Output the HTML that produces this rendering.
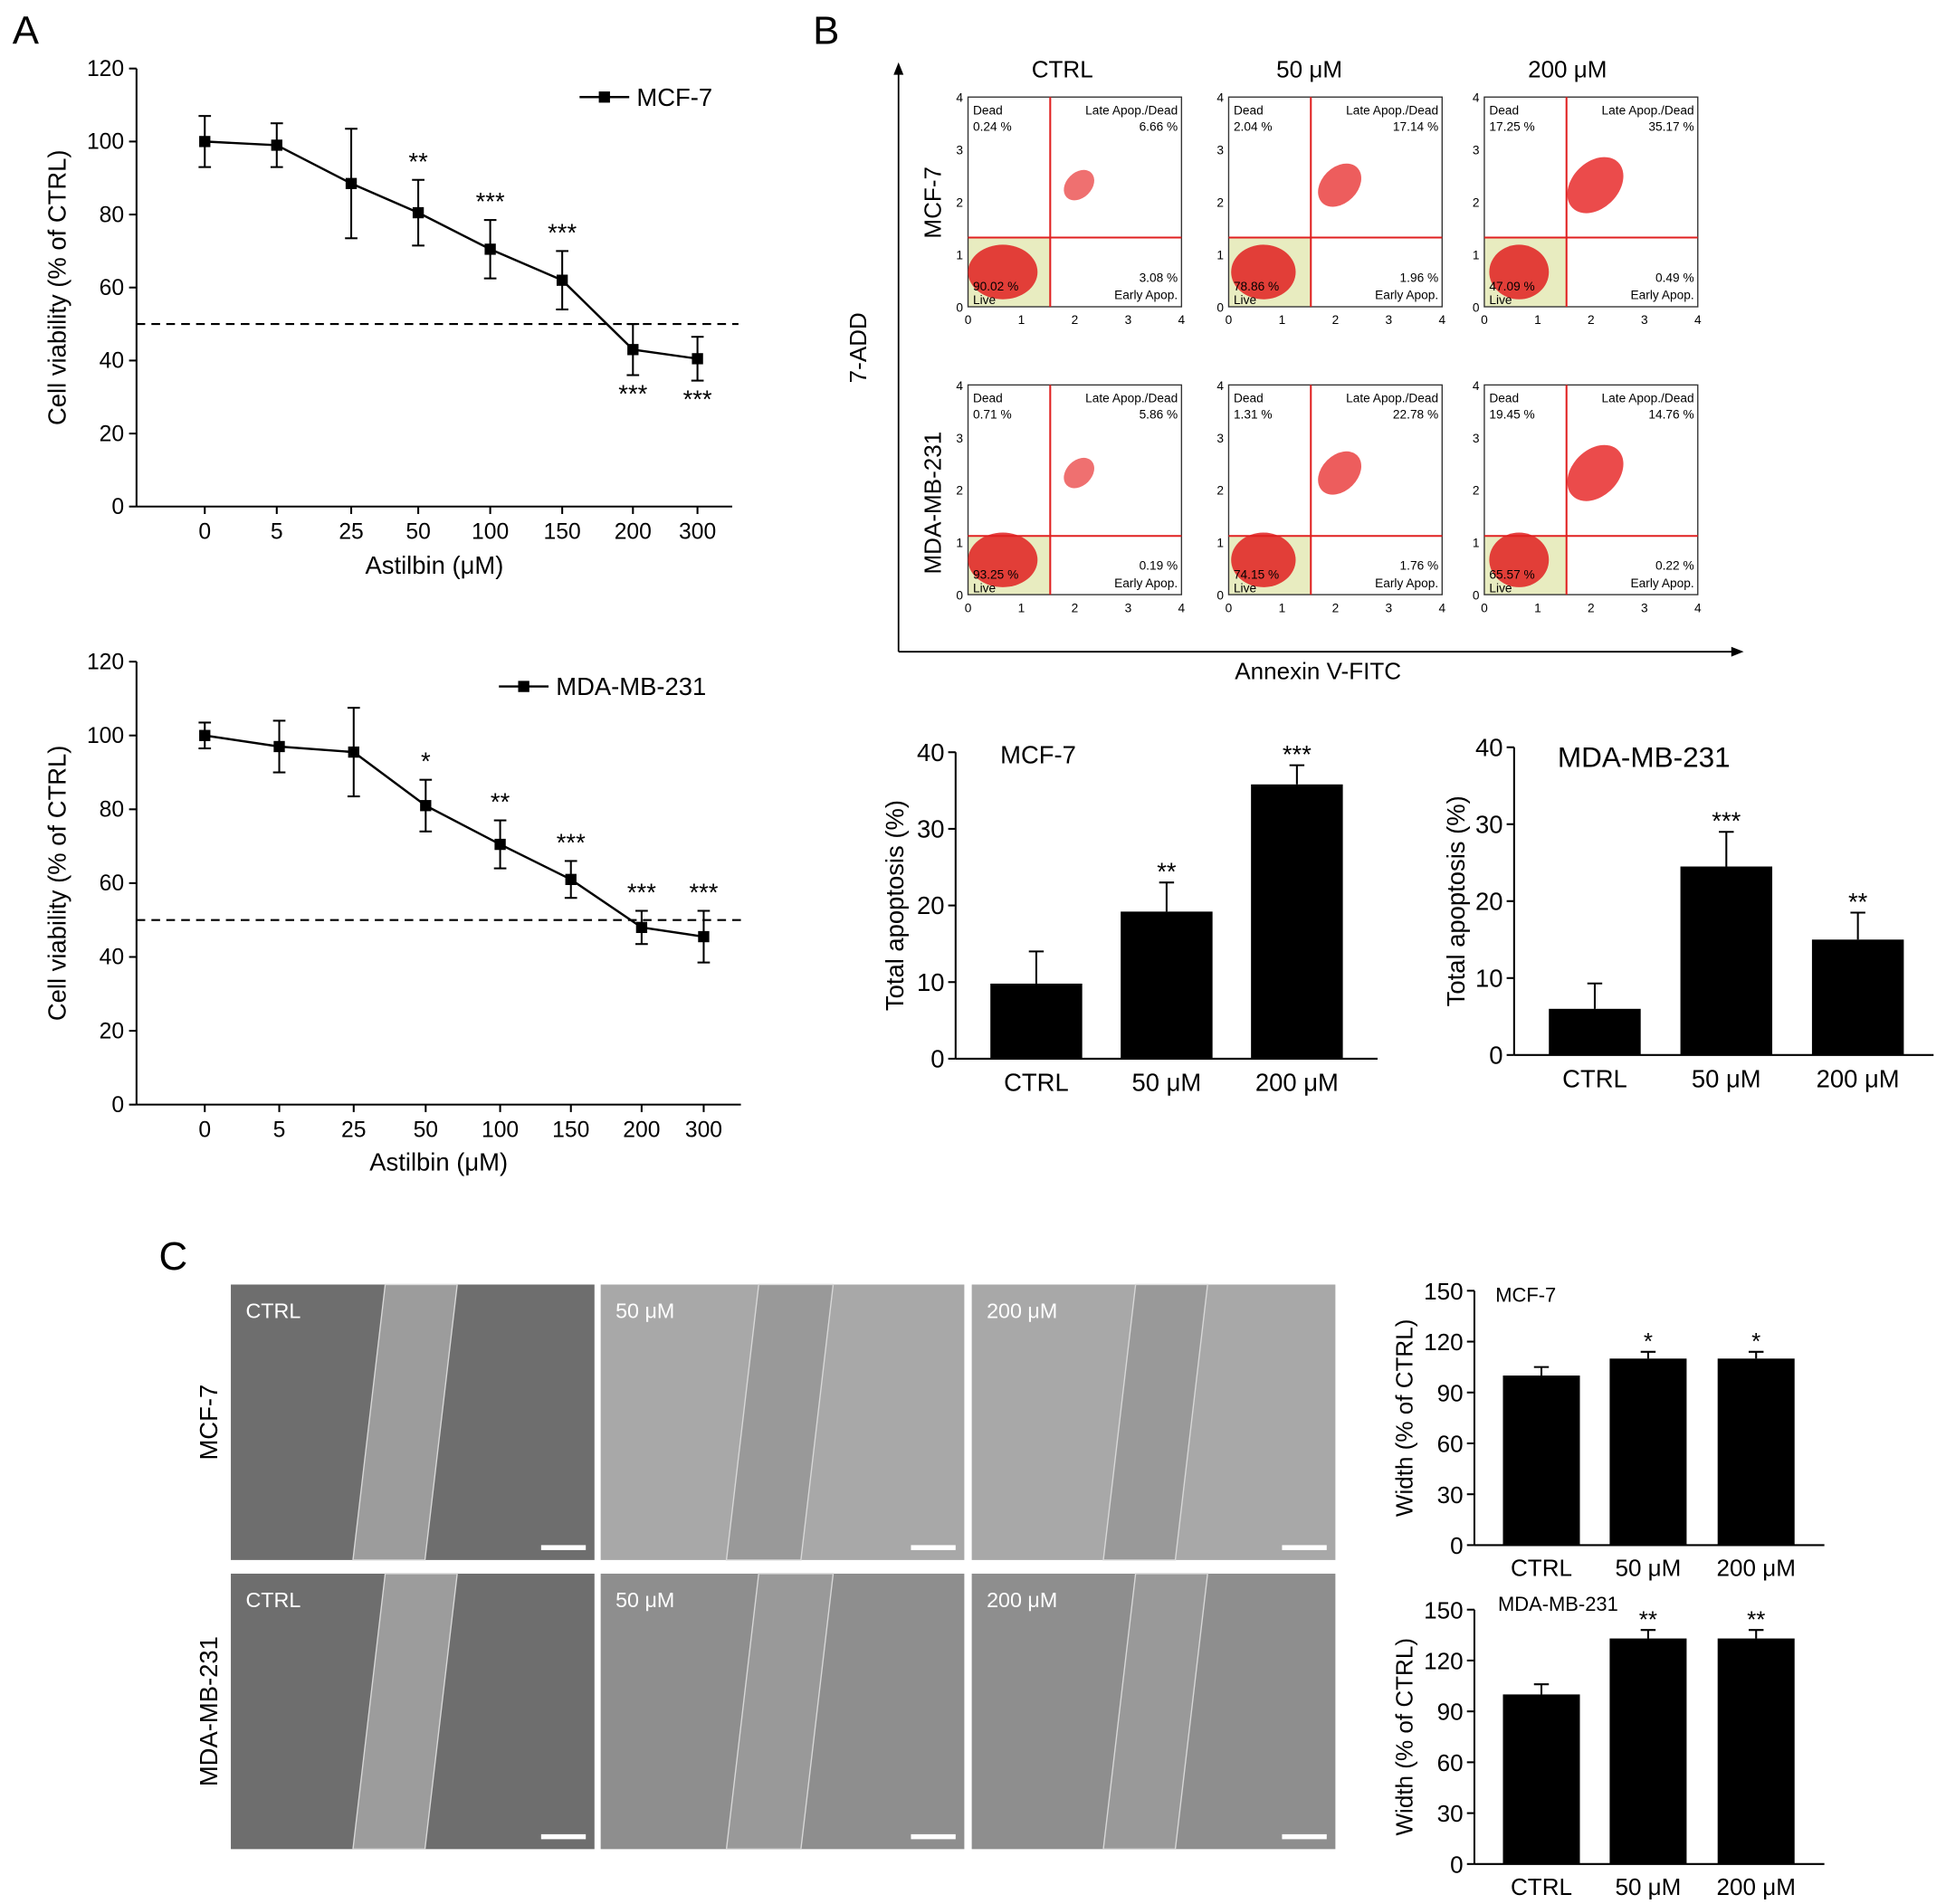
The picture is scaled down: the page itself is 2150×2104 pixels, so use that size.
<!DOCTYPE html>
<html><head><meta charset="utf-8"><style>
html,body{margin:0;padding:0;background:#fff;}
svg{display:block;font-family:"Liberation Sans",Arial,sans-serif;}
</style></head><body>
<svg id="fig" width="2150" height="2104" viewBox="0 0 1568 1534" xmlns="http://www.w3.org/2000/svg">
<rect x="0" y="0" width="1568" height="1534" fill="#fff"/>
<g id="root"></g>
</svg>
<script>
// Panel A data
const doses = ["0","5","25","50","100","150","200","300"];
const mcfVals = [100,99,88.5,80.5,70.5,62,43,40.5];
const mcfErr = [7,6,15,9,8,8,7,6];
const mcfStars = ["","","","**","***","***","***","***"];
const mdaVals = [100,97,95.5,81,70.5,61,48,45.5];
const mdaErr = [3.5,7,12,7,6.5,5,4.5,7];
const mdaStars = ["","","","*","**","***","***","***"];
const vTicks = [0,20,40,60,80,100,120];
// Panel B bar data
const groups = ["CTRL","50 μM","200 μM"];
const apoMcf = [9.8,19.2,35.8];
const apoMcfErr = [4.2,3.8,2.5];
const apoMcfStars = ["","**","***"];
const apoMda = [6,24.5,15];
const apoMdaErr = [3.3,4.5,3.5];
const apoMdaStars = ["","***","**"];
const apoTicks = [0,10,20,30,40];
// Flow quadrant values
const flowMcf = [["0.24 %","6.66 %","90.02 %","3.08 %"],["2.04 %","17.14 %","78.86 %","1.96 %"],["17.25 %","35.17 %","47.09 %","0.49 %"]];
const flowMda = [["0.71 %","5.86 %","93.25 %","0.19 %"],["1.31 %","22.78 %","74.15 %","1.76 %"],["19.45 %","14.76 %","65.57 %","0.22 %"]];
// Panel C data
const widthMcf = [100,110,110];
const widthMcfErr = [5,4,4];
const widthMcfStars = ["","*","*"];
const widthMda = [100,133,133];
const widthMdaErr = [6,5,5];
const widthMdaStars = ["","**","**"];
const widthTicks = [0,30,60,90,120,150];

const NS="http://www.w3.org/2000/svg";
const root=document.getElementById('root');
function el(tag,attrs,parent,txt){const e=document.createElementNS(NS,tag);for(const k in attrs)e.setAttribute(k,attrs[k]);if(txt!==undefined)e.textContent=txt;(parent||root).appendChild(e);return e;}
function grp(name){const g=el('g',{});return g;}
function txt(g,x,y,s,size,anchor,extra){const t=el('text',Object.assign({x:x,y:y,'font-size':size,'text-anchor':anchor||'middle',fill:'#000'},extra||{}),g,s);return t;}

[["A",10,35],["B",655,35],["C",128,1023]].forEach(([l,x,y])=>{const g=grp('panel-label-'+l.toLowerCase());txt(g,x,y,l,32,'start');});

function lineChart(name,xs,y0,y120,vals,err,stars,legend,xlabelY,axisRight,legX,legY){
  const g=grp(name);
  const yS=v=>y0-(y0-y120)*v/120;
  el('line',{x1:110,y1:y120,x2:110,y2:y0,stroke:'#000','stroke-width':1.5},g);
  el('line',{x1:110,y1:y0,x2:axisRight,y2:y0,stroke:'#000','stroke-width':1.5},g);
  vTicks.forEach(t=>{el('line',{x1:104,y1:yS(t),x2:110,y2:yS(t),stroke:'#000','stroke-width':1.5},g);txt(g,100,yS(t)+6,String(t),18,'end');});
  xs.forEach((x,i)=>{el('line',{x1:x,y1:y0,x2:x,y2:y0+6,stroke:'#000','stroke-width':1.5},g);txt(g,x,y0+26,doses[i],18);});
  txt(g,(110+axisRight)/2,xlabelY,"Astilbin (μM)",20);
  txt(g,0,0,"Cell viability (% of CTRL)",20,'middle',{transform:`translate(53,${(y0+y120)/2}) rotate(-90)`});
  const dl=el('line',{x1:110,y1:yS(50),x2:axisRight+5,y2:yS(50),stroke:'#000','stroke-width':1.5,'stroke-dasharray':'7,5'},g);
  
  let d='';vals.forEach((v,i)=>{d+=(i?'L':'M')+xs[i]+','+yS(v);});
  el('path',{d:d,fill:'none',stroke:'#000','stroke-width':1.8},g);
  vals.forEach((v,i)=>{const x=xs[i];const a=yS(v+err[i]),b=yS(v-err[i]);
    el('line',{x1:x,y1:a,x2:x,y2:b,stroke:'#000','stroke-width':1.5},g);
    el('line',{x1:x-5,y1:a,x2:x+5,y2:a,stroke:'#000','stroke-width':1.5},g);
    el('line',{x1:x-5,y1:b,x2:x+5,y2:b,stroke:'#000','stroke-width':1.5},g);
    const p=el('rect',{x:x-4.5,y:yS(v)-4.5,width:9,height:9,fill:'#000'},g);
    
    if(stars[i]){const below=v<50&&name.indexOf('mcf')>=0;txt(g,x,below?b+22:a-8,stars[i],20);}
  });
  el('line',{x1:legX,y1:legY,x2:legX+40,y2:legY,stroke:'#000','stroke-width':1.8},g);
  el('rect',{x:legX+15.5,y:legY-4.5,width:9,height:9,fill:'#000'},g);
  txt(g,legX+46,legY+7,legend,20,'start');
}
lineChart('line-chart-mcf7',[165,223,283,337,395,453,510,562],408,55,mcfVals,mcfErr,mcfStars,"MCF-7",462,590,467,78);
lineChart('line-chart-mda',[165,225,285,343,403,460,517,567],890,533,mdaVals,mdaErr,mdaStars,"MDA-MB-231",943,597,402,553);

const fg=grp('flow-cytometry-panel');
el('line',{x1:724,y1:525,x2:724,y2:55,stroke:'#000','stroke-width':1.3},fg);
el('path',{d:'M720,60 L724,50 L728,60 Z',fill:'#000'},fg);
el('line',{x1:724,y1:525,x2:1400,y2:525,stroke:'#000','stroke-width':1.3},fg);
el('path',{d:'M1395,521 L1405,525 L1395,529 Z',fill:'#000'},fg);
txt(fg,1062,547,"Annexin V-FITC",19);
txt(fg,0,0,"7-ADD",19,'middle',{transform:'translate(698,280) rotate(-90)'});
["CTRL","50 μM","200 μM"].forEach((s,i)=>txt(fg,[856,1055,1263][i],62,s,19));
txt(fg,0,0,"MCF-7",19,'middle',{transform:'translate(758,163) rotate(-90)'});
txt(fg,0,0,"MDA-MB-231",19,'middle',{transform:'translate(758,405) rotate(-90)'});
const cols=[780,990,1196], rows=[78,310], W=172, H=169;
[flowMcf,flowMda].forEach((data,r)=>{cols.forEach((cx,c)=>{
  const g=grp(`flow-plot-r${r+1}-c${c+1}`);const y=rows[r];const qx=cx+W*0.385, qy=y+H*(r?0.72:0.67);
  el('rect',{x:cx,y:qy,width:qx-cx,height:y+H-qy,fill:'#e8ecc0'},g);
  el('rect',{x:cx,y:y,width:W,height:H,fill:'none',stroke:'#333','stroke-width':1},g);
  el('ellipse',{cx:cx+28,cy:y+H-28,rx:28-c*2,ry:22,fill:'#e02020',opacity:0.85},g);
  const diag=[0.3,0.6,0.9][c];
  el('ellipse',{cx:cx+W*0.52,cy:y+H*0.42,rx:8+20*diag,ry:6+14*diag,fill:'#e83030',opacity:0.6+0.3*diag,transform:`rotate(-45 ${cx+W*0.52} ${y+H*0.42})`},g);
  el('line',{x1:qx,y1:y,x2:qx,y2:y+H,stroke:'#e02020','stroke-width':1.5},g);
  el('line',{x1:cx,y1:qy,x2:cx+W,y2:qy,stroke:'#e02020','stroke-width':1.5},g);
  const q=data[c];
  txt(g,cx+4,y+14,"Dead",10,'start');txt(g,cx+4,y+27,q[0],10,'start');
  txt(g,cx+W-3,y+14,"Late Apop./Dead",10,'end');txt(g,cx+W-3,y+27,q[1],10,'end');
  txt(g,cx+4,y+H-13,q[2],10,'start');txt(g,cx+4,y+H-2,"Live",10,'start');
  txt(g,cx+W-3,y+H-20,q[3],10,'end');txt(g,cx+W-3,y+H-6,"Early Apop.",10,'end');
  for(let k=0;k<=4;k++){txt(g,cx+k*W/4,y+H+14,String(k),10);txt(g,cx-4,y+H-k*H/4+4,String(k),10,'end');}
});});

function barChart(name,axX,y0,yTop,maxV,ticks,xs,bw,vals,err,stars,title,titleX,titleY,titleSize,ylab,ylabX,fs,right){
  const g=grp(name);const yS=v=>y0-(y0-yTop)*v/maxV;
  el('line',{x1:axX,y1:yTop,x2:axX,y2:y0,stroke:'#000','stroke-width':1.5},g);
  el('line',{x1:axX,y1:y0,x2:right,y2:y0,stroke:'#000','stroke-width':1.5},g);
  ticks.forEach(t=>{el('line',{x1:axX-6,y1:yS(t),x2:axX,y2:yS(t),stroke:'#000','stroke-width':1.5},g);txt(g,axX-9,yS(t)+7,String(t),fs,'end');});
  vals.forEach((v,i)=>{const x=xs[i];const b=el('rect',{x:x-bw/2,y:yS(v),width:bw,height:y0-yS(v),fill:'#000'},g);
    
    const t=yS(v+err[i]);el('line',{x1:x,y1:yS(v),x2:x,y2:t,stroke:'#000','stroke-width':1.5},g);el('line',{x1:x-6,y1:t,x2:x+6,y2:t,stroke:'#000','stroke-width':1.5},g);
    if(stars[i])txt(g,x,t-2,stars[i],fs);
    txt(g,x,y0+fs+6,groups[i],fs);});
  txt(g,titleX,titleY,title,titleSize,'start');
  txt(g,0,0,ylab,fs,'middle',{transform:`translate(${ylabX},${(y0+yTop)/2}) rotate(-90)`});
}
barChart('bar-chart-apoptosis-mcf7',770,853,606,40,apoTicks,[835,940,1045],74,apoMcf,apoMcfErr,apoMcfStars,"MCF-7",806,615,20,"Total apoptosis (%)",728,20,1110);
barChart('bar-chart-apoptosis-mda',1220,850,602,40,apoTicks,[1285,1391,1497],74,apoMda,apoMdaErr,apoMdaStars,"MDA-MB-231",1255,618,23,"Total apoptosis (%)",1180,20,1558);

const ig=grp('wound-healing-images');
txt(ig,0,0,"MCF-7",20,'middle',{transform:'translate(175,1146) rotate(-90)'});
txt(ig,0,0,"MDA-MB-231",20,'middle',{transform:'translate(175,1379) rotate(-90)'});
const icols=[186,484,783], irows=[1035,1268], labels=["CTRL","50 μM","200 μM"];
irows.forEach((ry,r)=>icols.forEach((cx,c)=>{const g=grp(`wound-image-r${r+1}-c${c+1}`);
  const fill=c===0?'#6e6e6e':(r===0?'#a8a8a8':'#8e8e8e');
  el('rect',{x:cx,y:ry,width:293,height:222,fill:fill},g);
  const gx=cx+[0.37,0.38,0.396][c]*293, gw=[58,60,58][c];
  el('path',{d:`M${gx+16},${ry} L${gx+gw+16},${ry} L${gx+gw-10},${ry+222} L${gx-10},${ry+222} Z`,fill:c===0?'#9c9c9c':'#999',stroke:'#d8d8d8','stroke-width':1},g);
  el('rect',{x:cx+250,y:ry+210,width:36,height:4,fill:'#fff'},g);
  txt(g,cx+12,ry+27,labels[c],17,'start',{fill:'#fff'});}));

barChart('bar-chart-width-mcf7',1188,1245,1040,150,widthTicks,[1242,1328,1415],62,widthMcf,widthMcfErr,widthMcfStars,"MCF-7",1205,1049,16,"Width (% of CTRL)",1138,19,1470);
barChart('bar-chart-width-mda',1188,1502,1297,150,widthTicks,[1242,1328,1415],62,widthMda,widthMdaErr,widthMdaStars,"MDA-MB-231",1207,1298,16,"Width (% of CTRL)",1138,19,1470);
</script>
</body></html>
